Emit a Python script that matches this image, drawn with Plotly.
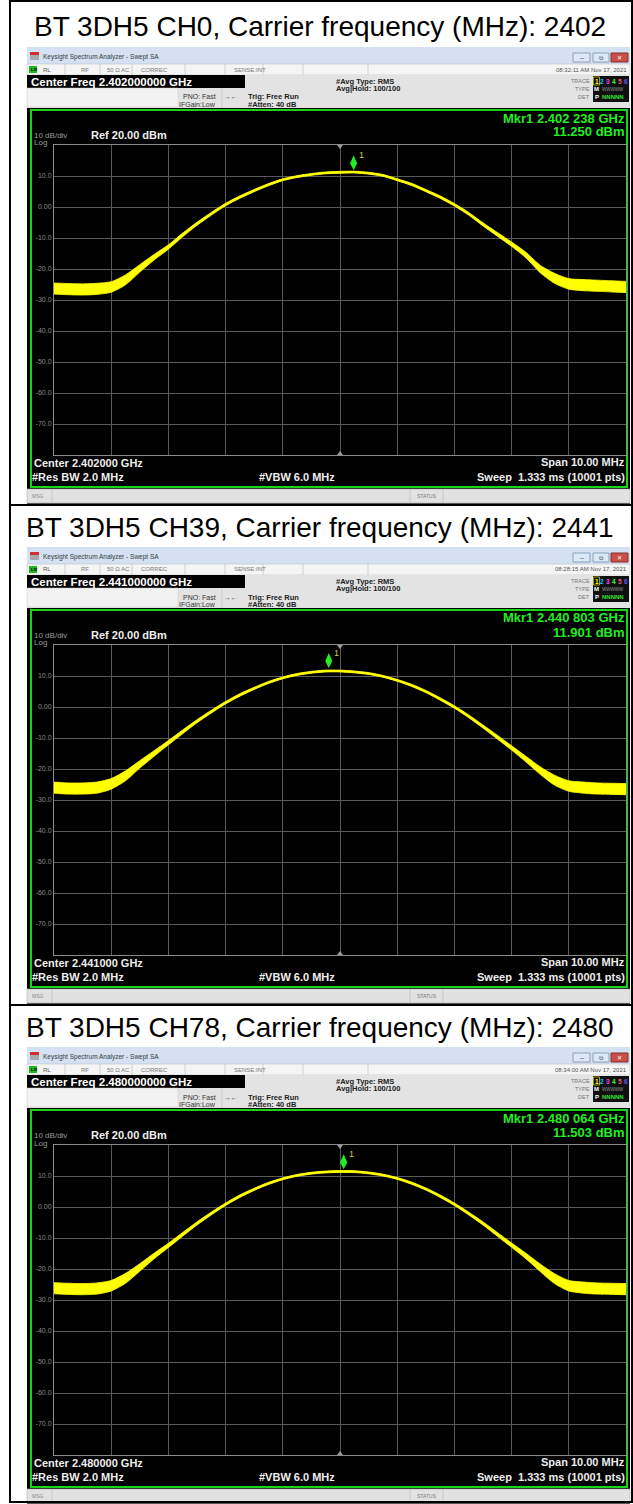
import plotly.graph_objects as go

W, H = 633, 1504
STEP = 500  # vertical distance between the three stacked panels (px)

# ---------------- data ----------------
channel_names = ["CH0", "CH39", "CH78"]
center_mhz = [2402, 2441, 2480]
marker_ghz = [2.402238, 2.440803, 2.480064]
marker_dbm = [11.250, 11.901, 11.503]
time_stamps = ["08:32:11 AM Nov 17, 2021", "08:28:15 AM Nov 17, 2021", "08:34:00 AM Nov 17, 2021"]

offset_mhz = [-5.0, -4.75, -4.5, -4.25, -4.0, -3.75, -3.5, -3.25, -3.0, -2.75,
              -2.5, -2.25, -2.0, -1.75, -1.5, -1.25, -1.0, -0.75, -0.5, -0.25,
              0.0, 0.25, 0.5, 0.75, 1.0, 1.25, 1.5, 1.75, 2.0, 2.25,
              2.5, 2.75, 3.0, 3.25, 3.5, 3.75, 4.0, 4.25, 4.5, 4.75, 5.0]

level_ch0 = [-26.3, -26.5, -26.6, -26.4, -25.8, -23.5, -19.8, -16.2, -12.9, -9.0,
             -5.4, -2.2, 0.8, 3.2, 5.3, 7.2, 8.8, 9.8, 10.5, 11.0,
             11.2, 11.25, 10.9, 10.2, 8.8, 7.3, 5.3, 3.2, 0.7, -2.2,
             -5.6, -8.8, -12.0, -15.5, -20.0, -23.0, -24.8, -25.2, -25.4, -25.6, -25.8]
level_ch39 = [-26.0, -26.3, -26.3, -26.0, -24.8, -22.2, -18.5, -15.0, -11.5, -8.0,
              -4.6, -1.5, 1.4, 3.9, 6.0, 7.9, 9.4, 10.5, 11.2, 11.6,
              11.6, 11.3, 10.8, 9.9, 8.6, 7.0, 5.0, 2.6, 0.0, -3.0,
              -6.3, -9.7, -13.2, -16.8, -20.5, -23.6, -25.5, -26.0, -26.3, -26.4, -26.5]
level_ch78 = [-26.2, -26.4, -26.5, -26.3, -25.4, -23.0, -19.5, -15.8, -12.4, -8.8,
              -5.3, -2.1, 0.9, 3.5, 5.7, 7.6, 9.1, 10.2, 10.9, 11.3,
              11.45, 11.4, 11.0, 10.3, 9.2, 7.7, 5.8, 3.5, 0.9, -2.1,
              -5.3, -8.8, -12.3, -15.8, -19.6, -23.1, -25.4, -26.0, -26.3, -26.4, -26.5]
# half-width of the noisy band around the trace (dB)
spread_all = [1.8, 1.8, 1.8, 1.8, 1.7, 1.6, 1.2, 0.9, 0.7, 0.6,
              0.5, 0.45, 0.4, 0.4, 0.35, 0.35, 0.3, 0.3, 0.3, 0.3,
              0.3, 0.3, 0.3, 0.3, 0.3, 0.35, 0.35, 0.4, 0.4, 0.45,
              0.5, 0.6, 0.7, 0.9, 1.2, 1.6, 1.7, 1.8, 1.8, 1.8, 1.8]
levels = [level_ch0, level_ch39, level_ch78]

y_tick_vals = [10, 0, -10, -20, -30, -40, -50, -60, -70]
y_tick_text = ["10.0", "0.00", "-10.0", "-20.0", "-30.0", "-40.0", "-50.0", "-60.0", "-70.0"]
ref_level = 20
bottom_level = -80
span_mhz = 10

# ---------------- helpers ----------------
SANS = "Liberation Sans, Arial, sans-serif"
shapes, annotations = [], []


def px(x):
    return x / W


def py(y):
    return 1 - y / H


def rect(x0, y0, x1, y1, fill, line=None, lw=0):
    shapes.append(dict(type="rect", xref="paper", yref="paper",
                       x0=px(x0), x1=px(x1), y0=py(y1), y1=py(y0),
                       fillcolor=fill, line=dict(width=lw, color=line or fill),
                       layer="below"))


def hline(x0, x1, y, color, lw=1):
    shapes.append(dict(type="line", xref="paper", yref="paper", x0=px(x0), x1=px(x1),
                       y0=py(y), y1=py(y), line=dict(color=color, width=lw), layer="above"))


def vline(x, y0, y1, color, lw=1):
    shapes.append(dict(type="line", xref="paper", yref="paper", x0=px(x), x1=px(x),
                       y0=py(y0), y1=py(y1), line=dict(color=color, width=lw), layer="below"))


def text(x, y, s, size, color, bold=False, anchor="left", family=SANS):
    annotations.append(dict(x=px(x), y=py(y), xref="paper", yref="paper",
                            text=f"<b>{s}</b>" if bold else s, showarrow=False,
                            xanchor=anchor, yanchor="middle", borderpad=0,
                            font=dict(size=size, color=color, family=family)))


fig = go.Figure()
layout_axes = {}

for k in range(3):
    o = STEP * k
    c = center_mhz[k]
    xa = "x" if k == 0 else f"x{k+1}"
    ya = "y" if k == 0 else f"y{k+1}"

    # ---- title of panel ----
    text(320, 27 + o, f"BT 3DH5 {channel_names[k]}, Carrier frequency (MHz): {c}", 28, "#000000",
         anchor="center")

    # ---- analyzer window chrome ----
    rect(27, 47 + o, 630, 504 + o, "#303030")
    rect(27, 47 + o, 630, 64 + o, "#d3e1f2")                 # window title bar
    rect(30, 52 + o, 39, 60 + o, "#a8a8a8")
    rect(30, 52 + o, 39, 55 + o, "#d03030")
    text(42, 57 + o, "Keysight Spectrum Analyzer - Swept SA", 6.5, "#3a3a3a")
    rect(573, 53 + o, 590, 62 + o, "#dce8f6", "#8aa0bb", 1)
    rect(593, 53 + o, 609, 62 + o, "#dce8f6", "#8aa0bb", 1)
    rect(611, 53 + o, 628, 62 + o, "#c9504a", "#8a2a2a", 1)
    text(581.5, 57.5 + o, "–", 7, "#4a5a70", anchor="center")
    text(601, 57.5 + o, "⧉", 6, "#4a5a70", anchor="center")
    text(619.5, 57.5 + o, "✕", 6, "#ffffff", anchor="center")

    rect(27, 64 + o, 630, 75 + o, "#f5f5f5", "#b8b8b8", 0.5)  # status line
    rect(29, 66 + o, 37, 73 + o, "#22b822")
    text(30, 69.5 + o, "LXI", 4, "#000000", bold=True)
    for sx in [65, 100, 132, 185, 225, 263, 303, 368]:
        vline(sx, 64 + o, 75 + o, "#b8b8b8", 0.6)
    text(42, 69.5 + o, "RL", 6, "#555555")
    text(80, 69.5 + o, "RF", 6, "#777777")
    text(106, 69.5 + o, "50 Ω", 6, "#777777")
    text(120, 69.5 + o, "AC", 6, "#777777")
    text(140, 69.5 + o, "CORREC", 6, "#777777")
    text(233, 69.5 + o, "SENSE:INT", 6, "#777777")
    text(628, 69.5 + o, time_stamps[k], 6, "#555555", anchor="right")

    rect(27, 75 + o, 630, 108 + o, "#e3e3e3")                # control strip
    rect(27, 75 + o, 245, 88 + o, "#000000")
    text(30, 81.5 + o, f"Center Freq {c / 1000:.9f} GHz", 11.5, "#ffffff", bold=True)
    rect(27, 88 + o, 178, 107 + o, "#f2f2f2", "#c8c8c8", 0.5)
    vline(222, 88 + o, 108 + o, "#c0c0c0", 0.6)
    text(217, 97 + o, "PNO: Fast", 7, "#333333", anchor="right")
    text(217, 104 + o, "IFGain:Low", 7, "#333333", anchor="right")
    text(230, 97 + o, "→←", 6.5, "#333333", anchor="center")
    text(247, 97 + o, "Trig: Free Run", 7.5, "#222222", bold=True)
    text(247, 104 + o, "#Atten: 40 dB", 7.5, "#222222", bold=True)
    text(335, 81 + o, "#Avg Type: RMS", 7.5, "#222222", bold=True)
    text(335, 88.5 + o, "Avg|Hold: 100/100", 7.5, "#222222", bold=True)

    # trace/type/det block
    text(591, 81 + o, "TRACE", 5.5, "#777777", anchor="right")
    text(591, 89 + o, "TYPE", 5.5, "#777777", anchor="right")
    text(591, 97 + o, "DET", 5.5, "#777777", anchor="right")
    rect(593, 76 + o, 629, 102 + o, "#101010")
    trace_cols = ["#ffff00", "#00d0ff", "#ff40ff", "#30ff30", "#ff5080", "#5060ff"]
    for i, col in enumerate(trace_cols):
        text(596.5 + i * 5.8, 81 + o, str(i + 1), 6.5, col, bold=True, anchor="center")
    rect(593.5, 77 + o, 599.5, 85 + o, "rgba(0,0,0,0)", "#ffff00", 0.6)
    text(596.5, 89 + o, "M", 6, "#ffffff", bold=True, anchor="center")
    text(601, 89 + o, "WWWWW", 4.5, "#909090")
    text(596.5, 97 + o, "P", 6, "#ffffff", bold=True, anchor="center")
    text(601, 97 + o, "NNNNN", 6, "#30e030", bold=True)

    # display area
    rect(27, 108 + o, 630, 489 + o, "#000000")
    rect(31, 110 + o, 627, 487 + o, "#000000", "#19d419", 2)
    rect(27, 489 + o, 630, 503 + o, "#e1e1e1", "#b5b5b5", 0.6)   # MSG bar
    text(31, 496 + o, "MSG", 5, "#888888")
    vline(52, 489 + o, 503 + o, "#b5b5b5", 0.6)
    vline(410, 489 + o, 503 + o, "#b5b5b5", 0.6)
    vline(443, 489 + o, 503 + o, "#b5b5b5", 0.6)
    text(426.5, 496 + o, "STATUS", 5, "#777777", anchor="center")

    # labels inside display
    text(33, 135 + o, "10 dB/div", 8, "#9a9a9a")
    text(33, 143 + o, "Log", 8, "#9a9a9a")
    text(90, 135 + o, f"Ref {ref_level:.2f} dBm", 11, "#eeeeee", bold=True)
    mk = f"{marker_ghz[k]:.6f}"
    mk_txt = mk[:5] + " " + mk[5:]
    text(626, 118 + o, f"Mkr1 {mk_txt} GHz", 13, "#22ee22", bold=True, anchor="right")
    text(626, 132 + o, f"{marker_dbm[k]:.3f} dBm", 13, "#22ee22", bold=True, anchor="right")
    text(33, 463 + o, f"Center {c / 1000:.6f} GHz", 11, "#eeeeee", bold=True)
    text(31, 477 + o, "#Res BW 2.0 MHz", 11, "#eeeeee", bold=True)
    text(258, 477 + o, "#VBW 6.0 MHz", 11, "#eeeeee", bold=True)
    text(626, 462 + o, f"Span {span_mhz:.2f} MHz", 11, "#eeeeee", bold=True, anchor="right")
    text(626, 477 + o, "Sweep  1.333 ms (10001 pts)", 11, "#eeeeee", bold=True, anchor="right")

    # ---- axes for this panel (the graticule) ----
    layout_axes["xaxis" if k == 0 else f"xaxis{k+1}"] = dict(
        domain=[px(54), px(626)], range=[c - span_mhz / 2, c + span_mhz / 2],
        tickvals=[c - 5, c - 4, c - 3, c - 2, c - 1, c, c + 1, c + 2, c + 3, c + 4, c + 5],
        showticklabels=False, ticks="", showgrid=True, gridcolor="#5a5a5a", gridwidth=1,
        zeroline=False, showline=True, mirror=True, linecolor="#8a8a8a", linewidth=1,
        anchor=ya, fixedrange=True)
    layout_axes["yaxis" if k == 0 else f"yaxis{k+1}"] = dict(
        domain=[py(455 + o), py(145 + o)], range=[bottom_level, ref_level],
        tickvals=y_tick_vals, ticktext=y_tick_text, ticks="",
        tickfont=dict(size=7, color="#8c8c8c", family=SANS),
        showgrid=True, gridcolor="#5a5a5a", gridwidth=1, zeroline=False,
        showline=True, mirror=True, linecolor="#8a8a8a", linewidth=1,
        anchor=xa, fixedrange=True)

    # ---- trace ----
    fx = [c + d for d in offset_mhz]
    lv = levels[k]
    lower = [v - s for v, s in zip(lv, spread_all)]
    upper = [v + s for v, s in zip(lv, spread_all)]
    fig.add_trace(go.Scatter(x=fx, y=lower, xaxis=xa, yaxis=ya, mode="lines",
                             line=dict(width=0.8, color="#ffff00", shape="spline", smoothing=0.7),
                             showlegend=False, hoverinfo="skip"))
    fig.add_trace(go.Scatter(x=fx, y=upper, xaxis=xa, yaxis=ya, mode="lines", fill="tonexty",
                             fillcolor="#ffff00",
                             line=dict(width=0.8, color="#ffff00", shape="spline", smoothing=0.7),
                             showlegend=False, hoverinfo="skip"))
    fig.add_trace(go.Scatter(x=fx, y=lv, xaxis=xa, yaxis=ya, mode="lines",
                             line=dict(width=1.8, color="#ffff00", shape="spline", smoothing=0.7),
                             showlegend=False, hoverinfo="skip"))

    # center-frequency markers at top/bottom of graticule
    shapes.append(dict(type="path", xref=xa, yref=ya, xsizemode="pixel", ysizemode="pixel",
                       xanchor=c, yanchor=ref_level, path="M -3 0 L 3 0 L 0 -4 Z",
                       fillcolor="#9a9a9a", line=dict(width=0)))
    shapes.append(dict(type="path", xref=xa, yref=ya, xsizemode="pixel", ysizemode="pixel",
                       xanchor=c, yanchor=bottom_level, path="M -3 0 L 3 0 L 0 4 Z",
                       fillcolor="#9a9a9a", line=dict(width=0)))
    # marker 1 diamond
    m_mhz = marker_ghz[k] * 1000
    shapes.append(dict(type="path", xref=xa, yref=ya, xsizemode="pixel", ysizemode="pixel",
                       xanchor=m_mhz, yanchor=marker_dbm[k], path="M 0 2 L 3.5 9 L 0 17 L -3.5 9 Z",
                       fillcolor="#22ee22", line=dict(width=0)))
    annotations.append(dict(x=m_mhz, y=marker_dbm[k], xref=xa, yref=ya, text="1", showarrow=False,
                            xshift=8, yshift=17, font=dict(size=9, color="#c8d040", family=SANS)))

# outer frame and separators
shapes.append(dict(type="rect", xref="paper", yref="paper", x0=px(10), x1=px(632), y0=py(1502), y1=py(1),
                   line=dict(color="#000000", width=2), fillcolor="rgba(0,0,0,0)", layer="above"))
for k in (1, 2):
    hline(10, 632, STEP * k + 5, "#000000", 2)

fig.update_layout(width=W, height=H, margin=dict(l=0, r=0, t=0, b=0),
                  paper_bgcolor="#ffffff", plot_bgcolor="#000000",
                  shapes=shapes, annotations=annotations, showlegend=False, **layout_axes)

fig.write_html("out.html", config={"displayModeBar": False, "staticPlot": True},
               post_script="document.body.style.margin='0';document.body.style.overflow='hidden';"
                           "document.documentElement.style.overflow='hidden';")
